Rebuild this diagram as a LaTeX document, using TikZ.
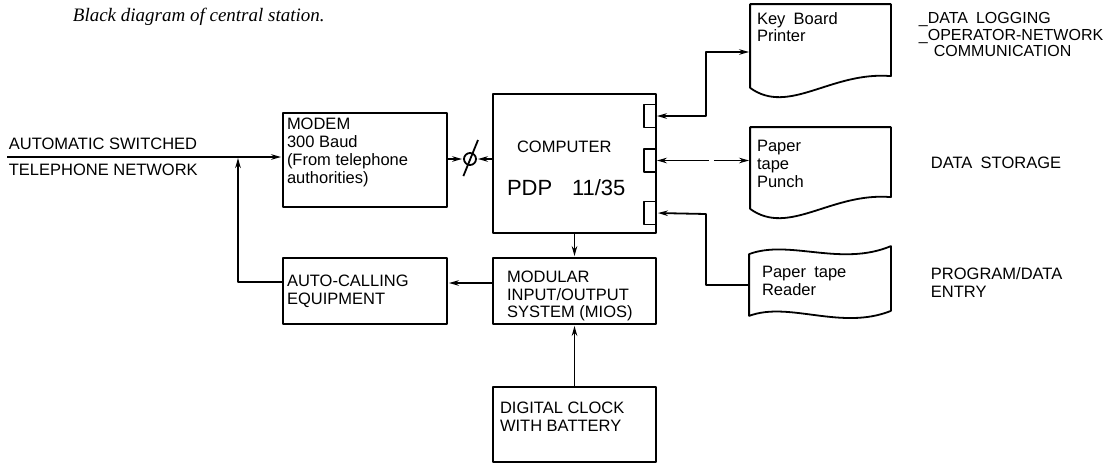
\documentclass[tikz,border=0pt]{standalone}
\usepackage{fontspec}
\setmainfont{Liberation Sans}
\newfontfamily\titlefont{Liberation Serif}
\usetikzlibrary{positioning,arrows.meta}

\newcommand{\boxfont}{\fontsize{16.5}{18}\selectfont}

\begin{document}
\begin{tikzpicture}[x=1pt,y=1pt,>={Stealth[length=10pt,width=5.5pt]},shorten >=1pt,line width=1.8pt,line join=round,
    box node/.style={draw,rectangle,inner sep=0pt},
    port node/.style={draw,rectangle,inner sep=0pt,minimum width=12pt,minimum height=23pt},
    doc node/.style={rectangle,inner sep=0pt,minimum width=139pt},
    txt node/.style={inner sep=0pt,align=left,font=\boxfont}]
    \useasboundingbox (0,0) rectangle (1119,-469);

    \node[inner sep=0pt,anchor=west,font={\titlefont\itshape\fontsize{19}{22}\selectfont}] (title) at (72,-17) {Black diagram of central station.};

    % blocks
    \node[box node,minimum width=164pt,minimum height=94pt] (modem) at (365,-160) {};
    \node[box node,minimum width=164pt,minimum height=66pt] (auto) at (365,-291) {};
    \node[box node,minimum width=163pt,minimum height=139pt] (computer) at (574.5,-163.5) {};
    \node[box node,minimum width=163pt,minimum height=66pt] (mios) at (574.5,-291) {};
    \node[box node,minimum width=163pt,minimum height=75pt] (clock) at (574.5,-424.5) {};
    \node[port node] (p1) at (650,-116) {};
    \node[port node] (p2) at (650,-160.5) {};
    \node[port node] (p3) at (650,-213) {};
    \node[draw,circle,minimum size=12pt,inner sep=0pt] (plug) at (470,-159) {};
    \draw ([shift={(8,19)}]plug.center) -- ([shift={(-7,-18)}]plug.center);

    % paper devices
    \node[doc node,minimum height=82pt] (printer) at (820.5,-46) {};
    \node[doc node,minimum height=80pt] (punch) at (820.5,-168) {};
    \node[doc node,minimum width=140pt,minimum height=60pt] (reader) at (820,-285) {};
    \draw (printer.south west) -- (printer.north west) -- (printer.north east) -- ++(0,-72) .. controls +(-60,5) and +(39,-28) .. (printer.south west) -- cycle;
    \draw (punch.south west) -- (punch.north west) -- (punch.north east) -- ++(0,-70) .. controls +(-60,5) and +(39,-28) .. (punch.south west) -- cycle;
    \draw (reader.north west) .. controls +(40,15) and +(-50,-21) .. ([yshift=8pt]reader.north east) -- ([yshift=5pt]reader.south east) .. controls +(-50,-20) and +(40,15) .. (reader.south west) -- cycle;

    % texts
    \node[txt node,below right=5pt and 4pt of modem.north west] (modem text) {MODEM\\300 Baud\\(From telephone\\authorities)};
    \node[txt node,below right=17pt and 4pt of auto.north west] (auto text) {AUTO-CALLING\\EQUIPMENT};
    \node[txt node,below right=47pt and 24pt of computer.north west] (computer text) {COMPUTER};
    \node[txt node,font={\fontsize{22}{24}\selectfont},below right=86pt and 14pt of computer.north west] (computer name) {PDP\hspace{0.9em}11/35};
    \node[txt node,font={\fontsize{16.5}{17.5}\selectfont},below right=13pt and 14pt of mios.north west] (mios text) {MODULAR\\INPUT/OUTPUT\\SYSTEM (MIOS)};
    \node[txt node,below right=15pt and 7pt of clock.north west] (clock text) {DIGITAL CLOCK\\WITH BATTERY};
    \node[txt node,font={\fontsize{16.5}{17}\selectfont},below right=8pt and 6pt of printer.north west] (printer text) {Key\hspace{0.5em}Board\\Printer};
    \node[txt node,below right=12pt and 6pt of punch.north west] (punch text) {Paper\\tape\\Punch};
    \node[txt node,below right=11pt and 12pt of reader.north west] (reader text) {Paper\hspace{0.5em}tape\\Reader};

    \node[txt node,anchor=west] (net top) at (8,-144) {AUTOMATIC SWITCHED};
    \node[txt node,anchor=west] (net bottom) at (8,-170) {TELEPHONE NETWORK};
    \node[txt node,font={\fontsize{16}{16.5}\selectfont},anchor=north west] (use printer) at (918,-11.5) {\_DATA\hspace{0.5em}LOGGING\\\_OPERATOR-NETWORK\\\hspace*{15pt}COMMUNICATION};
    \node[txt node,anchor=west] (use punch) at (930,-163) {DATA\hspace{0.5em}STORAGE};
    \node[txt node,anchor=north west] (use reader) at (930,-267) {PROGRAM/DATA\\ENTRY};

    % connectors
    \coordinate (net) at (7,-157);
    \coordinate (jn) at (238,-157);
    \coordinate (bus1) at (706,-52);
    \coordinate (bus3) at (706,-214);

    \draw[->] (net) -- (net -| modem.west);
    \draw[->] ([yshift=9pt]auto.west) -| (jn);
    \draw[->] (modem.east |- plug) -- (plug.west);
    \draw[->] (computer.west |- plug) -- (plug.east);
    \draw[->] (computer.south) -- (mios.north);
    \draw[->] ([yshift=8pt]mios.west) -- ([yshift=8pt]auto.east);
    \draw[->] (clock.north) -- (mios.south);
    \draw[<->] (p1.east) -| (bus1) -- (bus1 -| printer.west);
    \draw[<->,dash pattern=on 46pt off 5pt on 60pt off 0pt] (p2.east) -- (p2.east -| punch.west);
    \draw[->] (reader.west) -| (bus3) -- (p3.east);
\end{tikzpicture}
\end{document}
